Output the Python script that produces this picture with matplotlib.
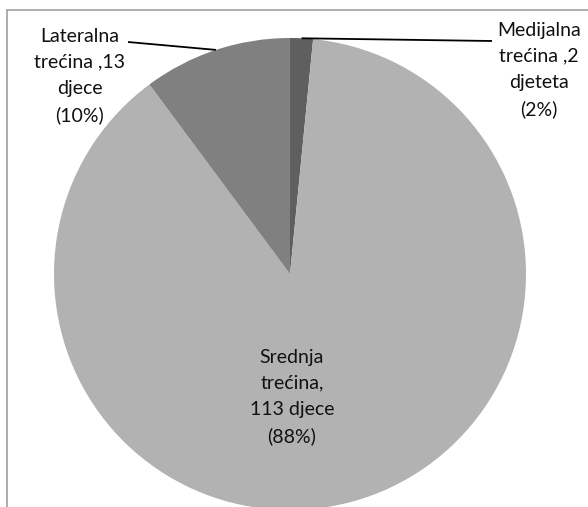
import numpy as np
import matplotlib
matplotlib.use("Agg")
import matplotlib.pyplot as plt
from matplotlib.patches import Rectangle

categories = ["Medijalna trećina", "Srednja trećina", "Lateralna trećina"]
counts = [2, 113, 13]
labels = ["Medijalna\ntrećina ,2\ndjeteta\n(2%)",
          "Srednja\ntrećina,\n113 djece\n(88%)",
          "Lateralna\ntrećina ,13\ndjece\n(10%)"]
colors = ["#5f5f5f", "#b2b2b2", "#808080"]

W, H = 588, 507
fig = plt.figure(figsize=(W / 100, H / 100), dpi=100)
ax = fig.add_axes([0, 0, 1, 1])

R = 236.0
cx, cy = 290.0, H - 274.0
def px(x, y_top):
    return ((x - cx) / R, ((H - y_top) - cy) / R)

wedges, _ = ax.pie(counts, colors=colors, startangle=90, counterclock=False,
                   radius=1.0, wedgeprops=dict(linewidth=0))
ax.set_xlim(-cx / R, (W - cx) / R)
ax.set_ylim(-cy / R, (H - cy) / R)
ax.set_aspect("auto")
ax.axis("off")

font = dict(family=["Lato", "DejaVu Sans"], fontsize=14, color="#111111",
            ha="center", va="center", linespacing=1.65)

# label positions (pixel layout)
pos = [px(539, 70), px(292, 397), px(80, 76)]
for lab, p in zip(labels, pos):
    ax.text(p[0], p[1], lab, **font)

# leader lines from wedge mid-arc
ends = {0: px(492, 41), 2: px(128, 42)}
for i, end in ends.items():
    w = wedges[i]
    mid = np.deg2rad((w.theta1 + w.theta2) / 2)
    start = (np.cos(mid), np.sin(mid))
    ax.plot([start[0], end[0]], [start[1], end[1]], color="black", lw=1.3,
            solid_capstyle="butt")

# chart frame (cut on right and bottom)
fig.patches.append(Rectangle((7 / W, -0.1), 1.2, (H - 10) / H + 0.1,
                             transform=fig.transFigure, fill=False,
                             edgecolor="#a0a0a0", lw=1.2))

fig.savefig("out.png", dpi=100)
